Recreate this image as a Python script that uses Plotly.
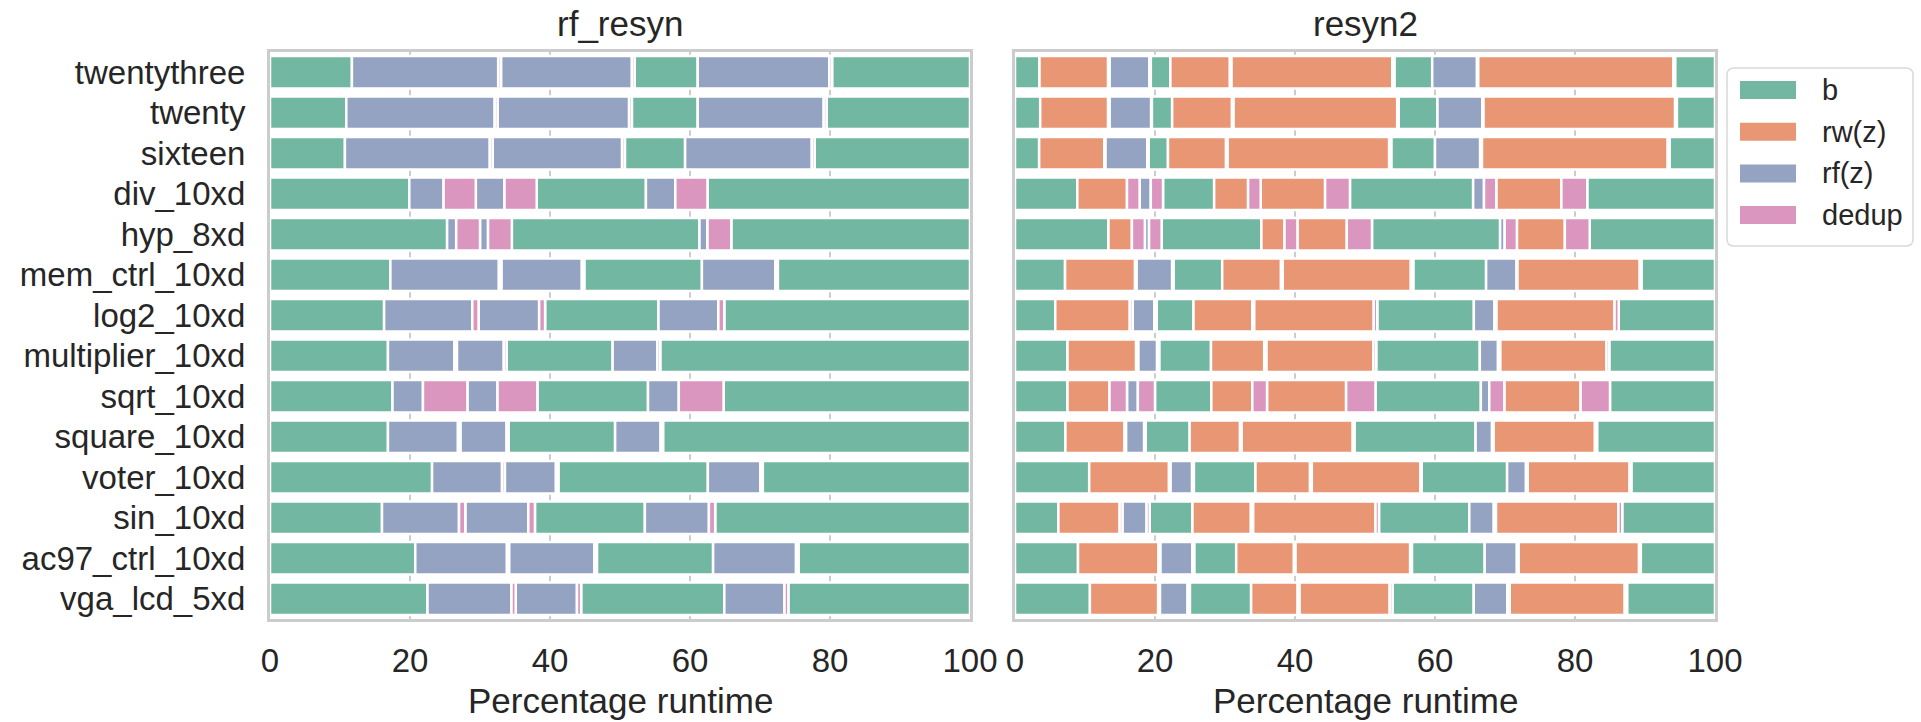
import plotly.graph_objects as go

W, H = 1921, 722

benchmarks = ["twentythree", "twenty", "sixteen", "div_10xd", "hyp_8xd",
              "mem_ctrl_10xd", "log2_10xd", "multiplier_10xd", "sqrt_10xd",
              "square_10xd", "voter_10xd", "sin_10xd", "ac97_ctrl_10xd",
              "vga_lcd_5xd"]

step_keys = ["b", "rw", "rf", "dd"]
step_names = ["b", "rw(z)", "rf(z)", "dedup"]
step_colors = ["#72b7a1", "#e99675", "#95a3c3", "#db96c0"]
x_ticks = [0, 20, 40, 60, 80, 100]

# order of steps inside each script
rf_resyn_steps = ["b", "rf", "dd", "rf", "dd", "b", "rf", "dd", "b"]
resyn2_steps = ["b", "rw", "dd", "rf", "dd", "b", "rw", "dd", "rw", "dd",
                "b", "rf", "dd", "rw", "dd", "b"]

# percentage of runtime per step (one row per benchmark)
rf_resyn_pct = [
    [11.7, 20.9, 0.4, 18.7, 0.4, 9.0, 18.8, 0.4, 19.7],
    [10.9, 21.2, 0.4, 18.8, 0.4, 9.4, 18.0, 0.4, 20.5],
    [10.7, 20.7, 0.4, 18.5, 0.4, 8.6, 18.1, 0.4, 22.2],
    [19.9, 4.9, 4.6, 4.1, 4.6, 15.6, 4.2, 4.6, 37.5],
    [25.3, 1.3, 3.4, 1.15, 3.4, 26.8, 1.15, 3.4, 34.1],
    [17.2, 15.5, 0.35, 11.5, 0.35, 16.8, 10.5, 0.35, 27.45],
    [16.3, 12.6, 0.9, 8.65, 0.85, 16.2, 8.55, 0.85, 35.1],
    [16.85, 9.5, 0.35, 6.7, 0.4, 15.15, 6.4, 0.4, 44.25],
    [17.5, 4.35, 6.35, 4.3, 5.7, 15.8, 4.4, 6.4, 35.2],
    [16.85, 10.0, 0.35, 6.6, 0.3, 15.2, 6.5, 0.35, 43.85],
    [23.15, 10.0, 0.4, 7.3, 0.35, 21.35, 7.5, 0.35, 29.6],
    [16.0, 11.0, 0.9, 9.0, 0.95, 15.7, 9.15, 0.9, 36.4],
    [20.75, 13.1, 0.3, 12.2, 0.35, 16.6, 11.85, 0.35, 24.5],
    [22.5, 12.0, 0.6, 8.75, 0.6, 20.45, 8.6, 0.55, 25.95],
]

resyn2_pct = [
    [3.5, 9.8, 0.2, 5.7, 0.2, 2.8, 8.5, 0.2, 23.0, 0.3, 5.4, 6.4, 0.15, 27.9, 0.25, 5.7],
    [3.6, 9.7, 0.2, 5.95, 0.1, 2.9, 8.55, 0.2, 23.4, 0.2, 5.55, 6.4, 0.15, 27.4, 0.25, 5.45],
    [3.45, 9.3, 0.15, 6.0, 0.2, 2.75, 8.3, 0.2, 23.1, 0.3, 6.25, 6.45, 0.25, 26.55, 0.25, 6.5],
    [8.9, 7.1, 1.8, 1.6, 1.75, 7.3, 4.85, 1.8, 9.2, 3.55, 17.6, 1.55, 1.75, 9.3, 3.7, 18.25],
    [13.35, 3.35, 1.85, 0.6, 1.8, 14.25, 3.3, 1.85, 7.05, 3.6, 18.3, 0.65, 1.75, 6.85, 3.55, 17.9],
    [7.15, 10.0, 0.2, 5.1, 0.2, 6.95, 8.4, 0.25, 18.3, 0.35, 10.4, 4.35, 0.1, 17.5, 0.25, 10.5],
    [5.75, 10.65, 0.4, 3.1, 0.35, 5.25, 8.4, 0.25, 17.1, 0.5, 13.8, 2.95, 0.25, 16.9, 0.6, 13.75],
    [7.5, 9.8, 0.3, 2.7, 0.3, 7.4, 7.6, 0.3, 15.3, 0.4, 14.8, 2.6, 0.3, 15.2, 0.4, 15.1],
    [7.5, 6.0, 2.5, 1.55, 2.45, 8.05, 5.85, 2.1, 11.3, 4.2, 15.05, 1.2, 2.15, 10.9, 4.2, 15.0],
    [7.2, 8.45, 0.2, 2.6, 0.2, 6.3, 7.2, 0.2, 15.9, 0.25, 17.3, 2.35, 0.2, 14.5, 0.3, 16.85],
    [10.6, 11.4, 0.2, 3.1, 0.25, 8.8, 7.8, 0.25, 15.5, 0.2, 12.2, 2.7, 0.25, 14.55, 0.25, 11.95],
    [6.2, 8.75, 0.4, 3.45, 0.45, 6.1, 8.35, 0.3, 17.5, 0.5, 12.9, 3.5, 0.3, 17.5, 0.55, 13.25],
    [9.0, 11.5, 0.25, 4.6, 0.25, 6.0, 8.25, 0.2, 16.4, 0.25, 10.4, 4.6, 0.25, 17.2, 0.25, 10.6],
    [10.7, 9.75, 0.25, 3.95, 0.33, 8.75, 6.65, 0.25, 12.9, 0.4, 11.6, 4.8, 0.33, 16.45, 0.33, 12.56],
]

TEXT = "#262626"
FONT = "Liberation Sans, Arial, Helvetica, sans-serif"
FRAME = "#cccccc"


def px(x):
    return x / W


def py(y):
    return 1 - y / H


fig = go.Figure()

panels = [
    ("rf_resyn", rf_resyn_steps, rf_resyn_pct, "x", "y", 270, 970),
    ("resyn2", resyn2_steps, resyn2_pct, "x2", "y2", 1015, 1715),
]

for title, steps, pct, xa, ya, x0, x1 in panels:
    for key, name, color in zip(step_keys, step_names, step_colors):
        ys, xs, bases = [], [], []
        for bench, row in zip(benchmarks, pct):
            start = 0.0
            for step, w in zip(steps, row):
                if step == key:
                    ys.append(bench)
                    xs.append(w)
                    bases.append(start)
                start += w
        if not xs:
            continue
        fig.add_trace(go.Bar(
            y=ys, x=xs, base=bases, orientation="h", name=name,
            marker=dict(color=color, line=dict(color="white", width=2.5)),
            width=0.8, xaxis=xa, yaxis=ya, showlegend=False,
        ))
    fig.add_annotation(
        x=px((x0 + x1) / 2), y=py(23), xref="paper", yref="paper",
        text=title, showarrow=False, xanchor="center", yanchor="middle",
        font=dict(size=35, color=TEXT, family=FONT),
    )
    fig.add_annotation(
        x=px((x0 + x1) / 2), y=py(700), xref="paper", yref="paper",
        text="Percentage runtime", showarrow=False, xanchor="center",
        yanchor="middle", font=dict(size=35, color=TEXT, family=FONT),
    )

xaxis_common = dict(
    range=[0, 100], tickmode="array", tickvals=x_ticks, showgrid=True,
    gridcolor=FRAME, gridwidth=2, zeroline=False, showline=True, mirror=True,
    linecolor=FRAME, linewidth=3, ticks="", ticklabelstandoff=10,
    tickfont=dict(size=33, color=TEXT, family=FONT), fixedrange=True,
    automargin=False,
)
yaxis_common = dict(
    type="category", categoryorder="array", categoryarray=benchmarks,
    tickmode="array", tickvals=benchmarks, ticktext=benchmarks,
    range=[13.5, -0.5], showgrid=False, zeroline=False, showline=True,
    mirror=True, linecolor=FRAME, linewidth=3, ticks="",
    ticklabelstandoff=15, tickfont=dict(size=33, color=TEXT, family=FONT),
    domain=[py(619), py(52)], fixedrange=True, automargin=False,
)

fig.update_layout(
    width=W, height=H, autosize=False,
    margin=dict(l=0, r=0, t=0, b=0, pad=0),
    paper_bgcolor="white", plot_bgcolor="white",
    barmode="overlay", showlegend=False,
    font=dict(family=FONT, color=TEXT),
    xaxis=dict(domain=[px(270), px(970)], anchor="y", **xaxis_common),
    xaxis2=dict(domain=[px(1015), px(1715)], anchor="y2", **xaxis_common),
    yaxis=dict(anchor="x", **yaxis_common),
    yaxis2=dict(anchor="x2", showticklabels=False, **yaxis_common),
)

# legend box (drawn manually so swatches match the reference size)
lx0, lx1, ly0, ly1, r = 1727, 1913, 68, 246, 7
path = (f"M {px(lx0 + r)},{py(ly0)} L {px(lx1 - r)},{py(ly0)} "
        f"Q {px(lx1)},{py(ly0)} {px(lx1)},{py(ly0 + r)} "
        f"L {px(lx1)},{py(ly1 - r)} Q {px(lx1)},{py(ly1)} {px(lx1 - r)},{py(ly1)} "
        f"L {px(lx0 + r)},{py(ly1)} Q {px(lx0)},{py(ly1)} {px(lx0)},{py(ly1 - r)} "
        f"L {px(lx0)},{py(ly0 + r)} Q {px(lx0)},{py(ly0)} {px(lx0 + r)},{py(ly0)} Z")
fig.add_shape(type="path", path=path, xref="paper", yref="paper",
              line=dict(color="#d9d9d9", width=1.5), fillcolor="white")
for i, (name, color) in enumerate(zip(step_names, step_colors)):
    cy = 90 + i * 41.7
    fig.add_shape(type="rect", xref="paper", yref="paper",
                  x0=px(1740), x1=px(1796), y0=py(cy + 9), y1=py(cy - 9),
                  fillcolor=color, line=dict(width=0))
    fig.add_annotation(x=px(1820), y=py(cy), xref="paper", yref="paper",
                       text=name, showarrow=False, xanchor="left",
                       yanchor="middle",
                       font=dict(size=29, color=TEXT, family=FONT))

fig.write_html("out.html", config={"displayModeBar": False},
               post_script="document.body.style.margin='0';document.body.style.overflow='hidden';")
